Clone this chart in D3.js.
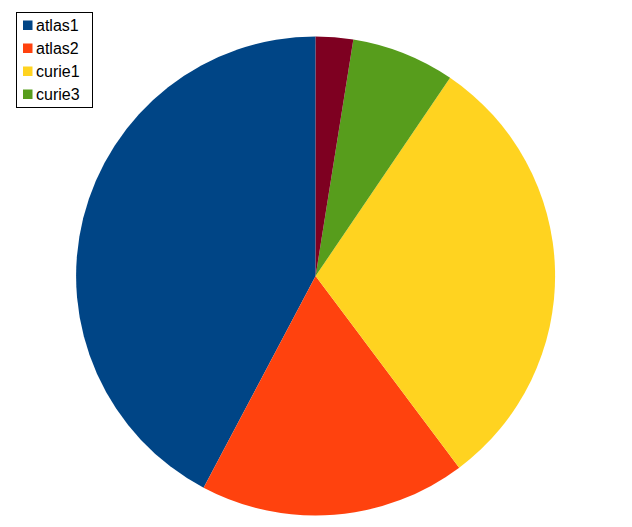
<!DOCTYPE html>
<html>
<head>
<meta charset="utf-8">
<script src="https://cdn.jsdelivr.net/npm/d3@7"></script>
<style>
html,body{margin:0;padding:0;background:#fff;}
svg{display:block;}
</style>
</head>
<body>
<script>
const categories = ["atlas1", "atlas2", "curie1", "curie3", "curie2"];
const values = [42.26, 17.98, 30.28, 6.97, 2.52];
const colors = ["#004586", "#ff420e", "#ffd320", "#579d1c", "#7e0021"];
const legendCategories = ["atlas1", "atlas2", "curie1", "curie3"];

const W = 632, H = 527;
const cx = 315.6, cy = 276, R = 239.5;

const svg = d3.select("body").append("svg").attr("width", W).attr("height", H);

const data = categories.map((c, i) => ({name: c, value: values[i], color: colors[i]}));
const pie = d3.pie().sort(null).value(d => d.value).startAngle(0).endAngle(-2 * Math.PI);
const arc = d3.arc().innerRadius(0).outerRadius(R);

svg.append("g").attr("transform", `translate(${cx},${cy})`)
  .selectAll("path").data(pie(data)).join("path")
  .attr("d", arc).attr("fill", d => d.data.color);

const lg = svg.append("g");
lg.append("rect").attr("x", 16.5).attr("y", 12.5).attr("width", 76).attr("height", 95)
  .attr("fill", "#fff").attr("stroke", "#000").attr("stroke-width", 1);
const rowY = d3.scalePoint().domain(legendCategories).range([25.5, 94.5]);
const colorOf = d3.scaleOrdinal().domain(categories).range(colors);
const rows = lg.selectAll("g.row").data(legendCategories).join("g").attr("class", "row");
rows.append("rect").attr("x", 23).attr("y", d => rowY(d) - 5).attr("width", 9.5).attr("height", 9.5)
  .attr("fill", d => colorOf(d));
rows.append("text").attr("x", 36).attr("y", d => rowY(d) + 5.8)
  .attr("font-family", "Liberation Sans, Arial, sans-serif").attr("font-size", 16)
  .attr("fill", "#000").text(d => d);
</script>
</body>
</html>
